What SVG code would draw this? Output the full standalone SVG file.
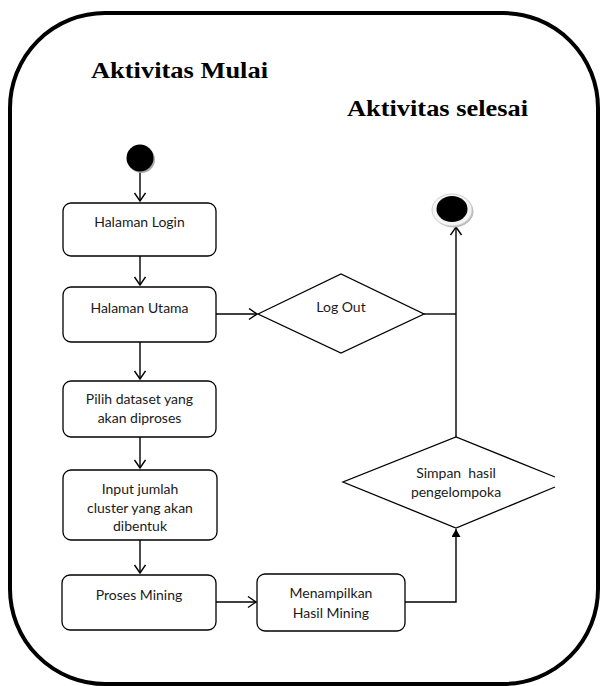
<svg xmlns="http://www.w3.org/2000/svg" width="601" height="686" viewBox="0 0 601 686">
<style>
.frame{fill:none;stroke:#000;stroke-width:4}
.box{fill:#fff;stroke:#000;stroke-width:1.3}
.lbl{font-family:Lato,"Open Sans","Liberation Sans",sans-serif;font-size:14px;fill:#1a1a1a;text-anchor:middle}
.title{font-family:"Liberation Serif","Times New Roman",serif;font-size:24px;font-weight:bold;fill:#000}
.ln{fill:none;stroke:#000;stroke-width:1.4}
</style>
<defs>
<marker id="open" markerWidth="14" markerHeight="14" refX="9" refY="6" orient="auto" markerUnits="userSpaceOnUse">
<path d="M1,0.5 L9,6 L1,11.5" fill="none" stroke="#000" stroke-width="1.4"/>
</marker>
<marker id="fill" markerWidth="12" markerHeight="12" refX="8" refY="4.5" orient="auto" markerUnits="userSpaceOnUse">
<path d="M0,0 L8,4.5 L0,9 Z" fill="#000"/>
</marker>
</defs>
<rect class="frame" x="10" y="13" width="588" height="671" rx="95" ry="95"/>
<text class="title" x="91" y="78" textLength="177" lengthAdjust="spacingAndGlyphs">Aktivitas Mulai</text>
<text class="title" x="347" y="116" textLength="181" lengthAdjust="spacingAndGlyphs">Aktivitas selesai</text>
<g id="connectors">
<line class="ln" x1="140" y1="172" x2="140" y2="201" marker-end="url(#open)"/>
<line class="ln" x1="140" y1="256" x2="140" y2="285" marker-end="url(#open)"/>
<line class="ln" x1="140" y1="342" x2="140" y2="379" marker-end="url(#open)"/>
<line class="ln" x1="140" y1="437" x2="140" y2="468" marker-end="url(#open)"/>
<line class="ln" x1="140" y1="540" x2="140" y2="573" marker-end="url(#open)"/>
<line class="ln" x1="216" y1="314" x2="257" y2="314" marker-end="url(#open)"/>
<line class="ln" x1="216" y1="602" x2="256" y2="602" marker-end="url(#open)"/>
<polyline class="ln" points="405,602 456,602 456,529" marker-end="url(#fill)"/>
<line class="ln" x1="424" y1="314" x2="456" y2="314"/>
<line class="ln" x1="456" y1="437" x2="456" y2="227" marker-end="url(#open)"/>
</g>
<g id="start">
<circle cx="141.5" cy="159.5" r="13.5" fill="#aaa"/>
<circle cx="140" cy="158" r="13.5" fill="#000"/>
</g>
<g id="end">
<ellipse cx="453.5" cy="211.5" rx="20" ry="16" fill="#bbb"/>
<ellipse cx="452" cy="210" rx="20" ry="16" fill="#f4f4f4" stroke="#d0d0d0" stroke-width="1"/>
<ellipse cx="452" cy="209" rx="15.5" ry="13" fill="#000"/>
</g>
<g id="login">
<rect class="box" x="63" y="203" width="153" height="53" rx="8"/>
<text class="lbl" x="139.5" y="227">Halaman Login</text>
</g>
<g id="utama">
<rect class="box" x="63" y="287" width="153" height="55" rx="8"/>
<text class="lbl" x="139.5" y="313">Halaman Utama</text>
</g>
<g id="logout">
<polygon class="box" points="258,314 341,274 424,314 341,353"/>
<text class="lbl" x="341" y="312">Log Out</text>
</g>
<g id="pilih">
<rect class="box" x="63" y="381" width="153" height="56" rx="8"/>
<text class="lbl" x="139.5" y="404">Pilih dataset yang</text>
<text class="lbl" x="139.5" y="423">akan diproses</text>
</g>
<g id="input">
<rect class="box" x="63" y="470" width="154" height="70" rx="8"/>
<text class="lbl" x="140" y="494">Input jumlah</text>
<text class="lbl" x="140" y="513">cluster yang akan</text>
<text class="lbl" x="140" y="531">dibentuk</text>
</g>
<g id="proses">
<rect class="box" x="62" y="575" width="154" height="55" rx="8"/>
<text class="lbl" x="139" y="600">Proses Mining</text>
</g>
<g id="menampilkan">
<rect class="box" x="257" y="574" width="148" height="57" rx="8"/>
<text class="lbl" x="331" y="598">Menampilkan</text>
<text class="lbl" x="331" y="618">Hasil Mining</text>
</g>
<g id="simpan">
<polyline class="ln" style="stroke-width:1.3;fill:#fff" points="555,477 456,437 343,482 456,528 555,487"/>
<text class="lbl" x="456" y="478" xml:space="preserve">Simpan  hasil</text>
<text class="lbl" x="456" y="497">pengelompoka</text>
</g>
</svg>
